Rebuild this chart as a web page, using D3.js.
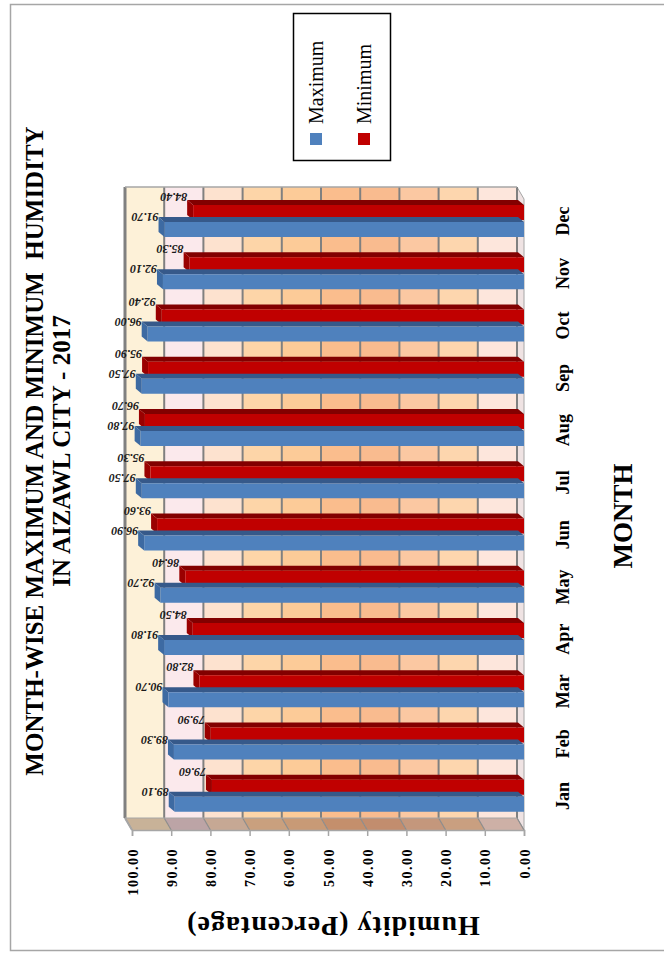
<!DOCTYPE html>
<html>
<head>
<meta charset="utf-8">
<script src="https://cdn.jsdelivr.net/npm/d3@7"></script>
<style>
  html, body { margin: 0; padding: 0; background: #ffffff; }
  svg { display: block; }
</style>
</head>
<body>
<svg id="chart" width="664" height="954"></svg>
<script>
// ---------------- DATA ----------------
const months = ["Jan","Feb","Mar","Apr","May","Jun","Jul","Aug","Sep","Oct","Nov","Dec"];
const maxHumidity = [89.10, 89.30, 90.70, 91.80, 92.70, 96.90, 97.50, 97.80, 97.50, 96.00, 92.10, 91.70];
const minHumidity = [79.60, 79.90, 82.80, 84.50, 86.40, 93.60, 95.30, 96.70, 95.90, 92.40, 85.30, 84.40];
const valueTicks = [0, 10, 20, 30, 40, 50, 60, 70, 80, 90, 100];
const seriesNames = ["Maximum", "Minimum"];
const titleLines = ["MONTH-WISE MAXIMUM AND MINIMUM  HUMIDITY", "IN AIZAWL CITY - 2017"];
const xAxisTitle = "MONTH";
const yAxisTitle = "Humidity (Percentage)";

// ---------------- STYLE ----------------
const colors = { max: "#4f81bd", maxTop: "#36598a", maxEnd: "#3d6aa2",
                 min: "#c00000", minTop: "#820000", minEnd: "#9a0000" };
const bandColors = ["#fde6dc", "#fdd6ae", "#fbc8a2", "#f9bb8f", "#fabd8d",
                    "#fccb98", "#fdd5a8", "#fde2cf", "#fbe9ec", "#fdf1d8"]; // 0-10 ... 90-100
const sideColors = ["#cdb0a6", "#c99f80", "#c4977c", "#c28d6e", "#c48f6c",
                    "#c89a76", "#c9a07e", "#c6a894", "#bca4a6", "#c8b298"];

const svg = d3.select("#chart");
const serif = "'Liberation Serif', 'Times New Roman', serif";

// Front plane scales (chart is drawn rotated: values run right->left, months bottom->top)
const x = d3.scaleLinear().domain([0, 100]).range([524, 132]);
const y = d3.scaleBand().domain(months).range([822, 195]);
const depth = { dx: -7, dy: -12 };      // wall depth (front -> back)
const barDepth = { dx: -6, dy: -5 };    // bar 3D offset
const wallTop = 187, wallBottom = 818, frontBottom = 830;
const bx = v => x(v) + depth.dx;        // back-wall x

// outer frame
svg.append("rect").attr("x", 10.5).attr("y", 4.5).attr("width", 700).attr("height", 946)
  .attr("fill", "none").attr("stroke", "#a6a6a6").attr("stroke-width", 1.5);

// ---------- back wall bands ----------
const wall = svg.append("g");
valueTicks.slice(0, -1).forEach((t, i) => {
  wall.append("rect")
    .attr("x", bx(t + 10)).attr("y", wallTop)
    .attr("width", bx(t) - bx(t + 10)).attr("height", wallBottom - wallTop)
    .attr("fill", bandColors[i]);
  wall.append("path")
    .attr("d", `M${bx(t + 10)},${wallBottom} L${bx(t)},${wallBottom} L${x(t)},${frontBottom} L${x(t + 10)},${frontBottom} Z`)
    .attr("fill", sideColors[i]);
});
wall.append("path")
  .attr("d", `M${bx(0)},${wallTop} L${x(0)},${wallTop + 12} L${x(0)},${frontBottom} L${bx(0)},${wallBottom} Z`)
  .attr("fill", "#efe3e3").attr("stroke", "#a6a6a6").attr("stroke-width", 1);

valueTicks.forEach(t => {
  wall.append("line").attr("x1", bx(t)).attr("x2", bx(t)).attr("y1", wallTop).attr("y2", wallBottom)
    .attr("stroke", "#808080").attr("stroke-width", t === 100 ? 3 : 2);
  wall.append("line").attr("x1", bx(t)).attr("x2", x(t)).attr("y1", wallBottom).attr("y2", frontBottom)
    .attr("stroke", "#8c8c8c").attr("stroke-width", 1.2);
});
wall.append("line").attr("x1", bx(100)).attr("x2", bx(0)).attr("y1", wallTop).attr("y2", wallTop)
  .attr("stroke", "#a6a6a6").attr("stroke-width", 1.5);
wall.append("line").attr("x1", bx(100)).attr("x2", bx(0)).attr("y1", wallBottom).attr("y2", wallBottom)
  .attr("stroke", "#a6a6a6").attr("stroke-width", 1);
wall.append("line").attr("x1", bx(100)).attr("x2", x(100)).attr("y1", wallBottom).attr("y2", frontBottom)
  .attr("stroke", "#a6a6a6").attr("stroke-width", 2);

// ---------- bars ----------
const barH = 15;
const bars = [];
months.forEach((m, i) => {
  bars.push({ m, v: minHumidity[i], y0: y(m) + 10, type: "min" });
  bars.push({ m, v: maxHumidity[i], y0: y(m) + 27, type: "max" });
});
bars.sort((a, b) => a.y0 - b.y0);
const barG = svg.append("g");
bars.forEach(b => {
  const xv = x(b.v), x0 = x(0), y0 = b.y0, y1 = b.y0 + barH;
  const c = b.type === "max" ? [colors.max, colors.maxTop, colors.maxEnd] : [colors.min, colors.minTop, colors.minEnd];
  barG.append("path")
    .attr("d", `M${xv},${y0} L${x0},${y0} L${x0 + barDepth.dx},${y0 + barDepth.dy} L${xv + barDepth.dx},${y0 + barDepth.dy} Z`)
    .attr("fill", c[1]);
  barG.append("path")
    .attr("d", `M${xv},${y0} L${xv},${y1} L${xv + barDepth.dx},${y1 + barDepth.dy} L${xv + barDepth.dx},${y0 + barDepth.dy} Z`)
    .attr("fill", c[2]);
  barG.append("rect").attr("x", xv).attr("y", y0).attr("width", x0 - xv).attr("height", barH)
    .attr("fill", c[0]);
  barG.append("text")
    .attr("transform", `translate(${xv - 6},${y0 - (b.type === "max" ? 9 : 12)}) rotate(180)`)
    .attr("font-family", serif).attr("font-size", 12).attr("font-weight", "bold")
    .attr("font-style", "italic").attr("fill", "#1a1a1a")
    .attr("text-anchor", "start")
    .text(b.v.toFixed(2));
});

// ---------- value axis (bottom) ----------
const xAxis = svg.append("g").attr("transform", `translate(0,${frontBottom})`)
  .call(d3.axisBottom(x).tickValues(valueTicks).tickFormat(d3.format(".2f")).tickSize(6));
xAxis.select(".domain").attr("stroke", "#a6a6a6").attr("stroke-width", 1.5);
xAxis.selectAll(".tick line").attr("stroke", "#a6a6a6").attr("stroke-width", 1.5);
xAxis.selectAll(".tick text")
  .attr("transform", "rotate(-90)").attr("x", -18).attr("y", 5).attr("dy", 0)
  .style("text-anchor", "end")
  .attr("font-family", serif).attr("font-size", 14).attr("font-weight", "bold")
  .attr("letter-spacing", 1.5).attr("fill", "#000");

// ---------- month axis (right) ----------
const yAxis = svg.append("g").attr("transform", "translate(554,0)")
  .call(d3.axisRight(y).tickSize(0));
yAxis.select(".domain").remove();
yAxis.selectAll(".tick text")
  .attr("transform", "rotate(-90)").attr("x", 0).attr("y", 15).attr("dy", 0)
  .style("text-anchor", "middle")
  .attr("font-family", serif).attr("font-size", 18).attr("font-weight", "bold").attr("fill", "#000");

// ---------- titles ----------
svg.append("text").attr("transform", "translate(632,516) rotate(-90)")
  .attr("text-anchor", "middle").attr("font-family", serif).attr("font-size", 27).attr("font-weight", "bold")
  .text(xAxisTitle);
svg.append("text").attr("transform", "translate(333,917) rotate(180)")
  .attr("text-anchor", "middle").attr("font-family", serif).attr("font-size", 28).attr("font-weight", "bold")
  .attr("letter-spacing", 1)
  .text(yAxisTitle);
titleLines.forEach((t, i) => {
  svg.append("text").attr("transform", `translate(${43 + i * 27},451) rotate(-90)`)
    .attr("text-anchor", "middle").attr("font-family", serif).attr("font-size", 25).attr("font-weight", "bold")
    .attr("xml:space", "preserve")
    .text(t);
});

// ---------- legend ----------
const lg = svg.append("g");
lg.append("rect").attr("x", 293.5).attr("y", 13.5).attr("width", 97).attr("height", 147)
  .attr("fill", "#fff").attr("stroke", "#000").attr("stroke-width", 1.5);
seriesNames.forEach((s, i) => {
  const cx = 316 + i * 48;
  lg.append("rect").attr("x", cx - 6).attr("y", 133).attr("width", 12).attr("height", 12)
    .attr("fill", i === 0 ? colors.max : colors.min);
  lg.append("text").attr("transform", `translate(${cx + 7},124) rotate(-90)`)
    .attr("font-family", serif).attr("font-size", 20).attr("fill", "#000")
    .text(s);
});
</script>
</body>
</html>
